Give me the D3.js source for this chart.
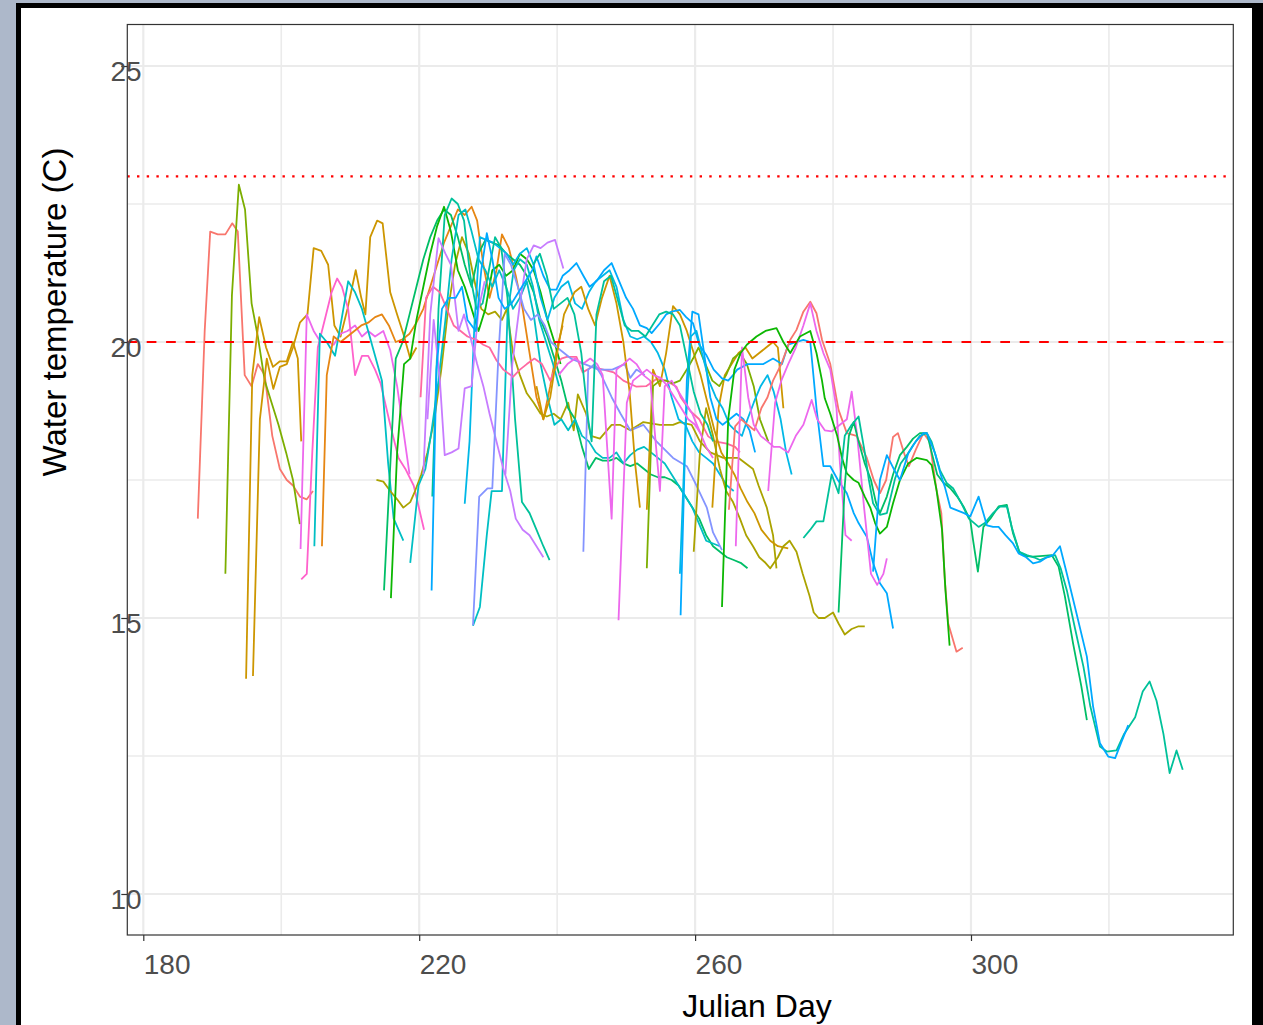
<!DOCTYPE html>
<html>
<head>
<meta charset="utf-8">
<script src="https://cdn.jsdelivr.net/npm/d3@7"></script>
<style>
  html, body { margin: 0; padding: 0; background: #adb8ca; }
  svg { display: block; }
  text { font-family: "Liberation Sans", Arial, Helvetica, sans-serif; }
</style>
</head>
<body>
<svg id="chart" width="1263" height="1025"></svg>
<script>
// ---- data: logger deployments, [julian day, water temperature C] ----
const siteNames = ["S01","S02","S03","S04","S05","S06","S07","S08",
                   "S09","S10","S11","S12","S13","S14","S15","S16"];

const s01a = [[187.9,16.8],[188.9,20.2],[189.7,22.0],[190.8,21.95],[191.9,21.95],[192.9,22.15],[193.7,22.0],[194.7,19.4],[195.7,19.2],[196.6,19.6],[197.6,19.4],[198.7,18.3],[199.8,17.7],[200.8,17.5],[201.7,17.4],[202.7,17.2],[203.7,17.15],[204.6,17.3]];
const s05a = [[191.9,15.8],[192.85,20.85],[193.85,22.85],[194.75,22.4],[195.7,20.7],[196.6,20.1],[197.6,19.3],[198.6,18.9],[199.6,18.5],[200.7,18.0],[201.7,17.5],[202.7,16.7]];
const s03a = [[194.9,13.9],[195.8,19.4],[196.8,20.45],[197.8,19.9],[198.8,19.55],[199.8,19.65],[200.8,19.65],[201.7,20.0],[202.4,19.7],[202.9,18.2]];
const s03b = [[195.9,13.95],[196.9,18.6],[197.9,19.7],[198.85,19.15],[199.8,19.55],[200.8,19.6],[201.7,19.9],[202.7,20.35],[203.8,20.5],[204.7,21.7],[205.8,21.65],[206.8,21.4],[207.7,20.3],[208.6,20.1],[209.6,20.6],[210.8,21.3],[211.6,20.8],[212.2,20.5],[212.9,21.9],[213.9,22.2],[214.7,22.15],[215.8,20.9],[216.8,20.5],[217.7,20.15],[218.7,19.7],[219.6,19.9]];
const s14a = [[202.8,16.25],[203.7,20.5],[204.7,20.2],[205.7,20.0],[206.7,20.0],[207.6,19.95],[208.6,20.15],[209.6,20.2],[210.7,20.3],[211.7,20.1],[212.6,20.2],[213.6,20.1],[214.8,20.2],[215.8,19.85],[216.8,19.2],[217.7,18.4],[218.6,17.6]];
const s15a = [[202.9,15.7],[203.7,15.8],[204.5,18.0],[205.3,19.9],[206.3,20.4],[207.3,20.9],[208.1,21.15],[208.8,21.0],[209.7,20.6],[210.7,19.4],[211.7,19.75],[212.6,19.75],[213.6,19.5],[214.4,19.25],[215.8,18.5],[217.0,17.9],[218.0,17.7],[219.2,17.4],[220.7,16.6]];
const s09a = [[204.8,16.3],[205.6,20.15],[206.6,20.0],[207.8,19.75],[208.8,20.45],[209.7,21.1],[210.7,20.9],[211.7,20.6],[212.6,20.2],[213.6,19.75],[214.6,19.3],[215.5,17.8],[216.3,16.8],[217.7,16.4]];
const s02a = [[205.9,16.3],[206.6,19.4],[207.6,20.1],[208.6,20.0],[209.6,20.1],[210.6,20.2],[211.6,20.3],[212.6,20.35],[213.6,20.45],[214.6,20.5],[215.6,20.3],[216.6,20.0],[217.6,20.05],[218.6,20.15],[219.6,20.35],[220.6,20.6],[221.6,21.0],[222.6,21.4],[223.6,21.8],[224.6,22.1],[225.6,22.4],[226.6,22.3],[227.6,22.45],[228.4,22.2],[229.3,21.4],[230.2,20.8],[231.2,21.3],[232.0,21.95],[233.0,21.7],[234.0,21.2],[235.0,20.6],[236.0,19.8],[237.0,19.0],[238.0,18.6],[239.0,19.2],[240.0,19.9],[240.8,20.3]];
const s04a = [[213.8,17.5],[214.8,17.47],[215.8,17.3],[216.8,17.15],[217.7,17.0],[218.7,17.1],[219.4,17.3],[220.3,17.6],[221.2,18.0],[222.2,18.6],[223.2,19.5],[224.2,20.6],[225.2,21.4],[226.2,21.9],[227.2,21.6],[228.2,21.0],[229.0,20.6],[230.0,20.5],[231.0,20.55],[232.0,20.4],[232.7,20.6],[233.6,19.8],[234.6,19.4],[235.6,19.07],[236.6,18.9],[237.6,18.7],[238.5,18.65],[239.5,18.7],[240.5,18.6],[241.6,18.9],[242.4,18.4],[243.0,19.05],[244.2,18.7],[244.9,18.3],[246.2,18.25],[247.9,18.5],[249.1,18.5],[250.6,18.4],[252.5,18.55],[254.9,18.5],[256.8,18.5],[257.8,18.55],[259.5,18.5],[260.7,18.2],[262.2,18.0],[264.1,17.9],[266.3,17.9],[268.4,17.7],[269.2,17.4],[270.4,17.0],[271.3,16.5],[271.8,15.9]];
const s07a = [[214.9,15.5],[215.7,17.5],[216.6,19.7],[217.6,20.0],[218.6,20.5],[219.6,21.0],[220.6,21.5],[221.6,21.9],[222.6,22.2],[223.6,22.4],[224.6,22.3],[225.6,21.9],[226.6,21.4],[227.6,21.0],[228.6,21.6],[229.6,21.85],[230.6,21.8],[231.6,21.75],[232.6,21.6],[233.6,21.5],[234.6,21.4],[235.6,21.2],[236.6,20.9],[237.6,20.4],[238.6,20.1],[239.6,19.7],[240.6,19.3],[241.6,18.8],[242.6,18.6],[243.6,18.1],[244.6,17.7],[245.6,17.9],[246.6,17.85],[247.6,17.85],[248.6,17.9],[249.6,17.8],[250.6,17.75],[251.6,17.8],[252.6,17.7],[253.6,17.6],[254.6,17.55],[255.6,17.55],[256.6,17.5],[257.6,17.4],[258.6,17.2],[259.6,17.0],[260.6,16.8],[261.6,16.5],[262.6,16.3],[263.6,16.2],[264.6,16.1],[265.6,16.05],[266.6,16.0],[267.6,15.9]];
const s06a = [[215.9,15.36],[216.8,18.0],[217.8,19.6],[218.7,19.7],[219.6,20.4],[220.6,21.0],[221.6,21.6],[222.6,22.1],[223.6,22.45],[224.6,22.0],[225.6,21.3],[226.6,21.0],[227.6,20.6],[228.6,20.2],[229.6,20.6],[230.6,21.3],[231.6,21.4],[232.6,21.2],[233.6,21.3],[234.6,21.6],[235.6,21.5],[236.6,21.3],[237.6,20.9],[238.6,20.4],[239.6,20.0],[240.5,19.6]];
const s09b = [[218.7,16.0],[219.9,17.4],[220.9,17.7],[221.8,18.4],[222.8,19.3],[223.8,20.4],[224.7,21.5],[225.7,22.3],[226.7,22.4],[227.6,22.0],[228.6,21.5],[229.6,21.3],[230.6,21.0],[231.6,21.3],[232.6,21.0],[233.6,20.6],[234.6,20.8],[235.6,21.1],[236.6,20.5],[237.6,19.6],[238.6,19.0],[239.6,18.5],[240.6,18.6],[241.6,18.4],[242.6,18.6],[243.6,18.3],[244.6,18.2],[245.6,18.0],[246.6,17.9],[247.6,17.9],[248.6,18.0],[249.6,17.8],[250.6,17.95],[251.6,18.05],[252.6,18.1],[253.6,18.0],[254.6,17.9],[255.6,17.8],[256.6,17.6],[257.6,17.4],[258.6,17.2],[259.6,17.0],[260.6,16.7],[261.6,16.4],[262.6,16.35],[263.6,16.3]];
const s10a = [[226.6,17.07],[227.3,18.2],[228.0,20.3],[228.8,21.9],[229.7,21.85],[230.7,21.8],[231.7,21.7],[232.7,21.6],[233.6,21.4],[234.6,21.6],[235.6,21.7],[236.6,21.4],[237.6,20.8],[238.6,20.4],[239.6,20.8],[240.6,21.0],[241.6,21.1],[242.6,20.7],[243.6,20.6],[244.6,20.9],[245.6,21.1],[246.6,21.2],[247.6,21.3],[248.6,21.0],[249.6,20.4],[250.6,20.1],[251.6,20.05],[252.6,20.1],[253.6,20.0],[254.6,19.8],[255.6,19.5],[256.6,19.0],[257.6,18.6],[258.6,18.5],[259.6,18.2],[260.6,18.0],[261.6,17.9],[262.6,17.8],[263.6,17.6],[264.6,17.4],[265.6,17.3]];
const s09c = [[227.8,14.86],[228.8,15.2],[229.8,16.5],[230.5,17.3],[232.0,17.3],[232.8,20.5],[233.7,21.3],[234.6,21.5],[235.6,21.4],[236.5,21.0],[237.4,20.4],[238.4,20.0],[239.4,19.6],[240.3,19.2]];
const s08a = [[221.9,17.2],[222.8,20.6],[223.7,22.3],[224.7,22.6],[225.6,22.5],[226.5,22.2],[227.4,21.2],[228.3,20.6],[229.2,20.7],[230.1,21.3],[231.0,21.9],[231.9,21.7],[232.8,20.8],[233.9,18.6],[234.9,17.1],[236.0,16.9],[237.0,16.6],[238.0,16.3],[238.9,16.05]];
const s16a = [[220.2,19.0],[221.0,20.8],[222.0,21.0],[223.0,20.9],[224.0,20.6],[225.0,20.3],[226.0,20.2],[227.0,20.1],[228.3,20.04],[229.3,19.95],[230.2,19.9],[231.2,19.67],[232.2,19.5],[233.6,19.37],[234.6,19.5],[235.6,19.6],[236.7,19.7],[237.8,19.6],[239.0,19.3],[239.8,19.55],[240.6,19.7],[241.4,19.73],[242.8,19.73],[243.7,19.45],[245.1,19.55],[246.7,19.5],[248.2,19.45],[249.6,19.3],[251.5,19.19],[252.9,19.2],[254.4,19.33],[255.8,19.3],[257.3,19.19],[257.9,19.0],[259.3,18.75],[260.6,18.6],[261.9,18.29],[262.9,18.2],[264.6,18.16],[265.8,18.1],[266.5,18.0]];
const s13a = [[220.6,17.6],[221.6,20.5],[222.8,21.88],[223.8,21.6],[224.6,21.4],[225.7,20.2],[226.5,20.5],[227.4,20.1],[228.4,19.6],[229.3,19.2],[230.2,18.7],[231.2,18.2],[232.2,17.7],[233.2,17.3],[234.0,16.8],[235.0,16.6],[236.0,16.5],[237.0,16.3],[238.0,16.1]];
const s13b = [[232.5,17.6],[233.5,19.6],[234.6,20.7],[235.6,21.5],[236.6,21.75],[237.6,21.7],[238.6,21.8],[239.7,21.85],[240.9,21.33]];
const s13c = [[221.2,18.6],[222.1,20.4],[223.0,19.3],[223.7,17.95],[224.7,18.0],[225.7,18.07],[226.6,19.16],[227.6,19.2],[228.6,20.6],[229.5,21.1]];
const s12a = [[227.8,14.87],[228.7,17.2],[229.9,17.35],[230.6,17.35],[231.5,19.8],[232.4,21.6],[233.3,21.4],[234.3,21.0],[235.2,20.6],[236.2,20.4],[237.2,20.5],[238.2,20.3],[239.1,20.0],[240.0,19.9],[242.0,19.7],[244.0,19.6],[246.0,19.5],[248.0,19.5],[249.8,19.6],[250.6,19.35],[251.5,19.5],[252.7,19.4]];
const s12b = [[243.8,16.2],[244.5,19.5],[245.4,19.6],[246.4,19.4],[247.9,19.0],[249.2,18.7],[250.6,18.4],[252.5,18.5],[254.4,18.2],[256.8,17.9],[258.8,17.75],[260.2,17.4],[261.7,17.0],[262.6,16.55],[263.9,16.23]];
const s03c = [[237.0,19.2],[238.0,18.6],[239.0,19.0],[240.0,19.8],[241.0,20.5],[242.5,20.9],[243.5,21.0],[244.5,20.6],[245.5,20.3],[246.5,20.8],[247.6,21.2],[248.6,20.7],[249.6,20.0],[250.5,19.1],[251.3,17.8],[252.0,17.0]];
const s03d = [[253.0,16.96],[253.9,19.5],[254.9,19.2],[255.8,19.8],[256.8,20.65],[257.8,20.5],[258.8,20.2],[259.8,19.8],[260.8,19.4],[261.8,18.9],[262.8,18.4],[263.8,18.0],[264.8,17.8],[265.7,17.6],[266.6,17.35],[267.6,17.1],[268.6,16.9],[269.6,16.6],[270.9,16.4],[272.0,16.3],[273.5,16.26]];
const s03e = [[262.5,17.0],[263.4,18.8],[264.3,19.4],[265.3,19.6],[266.3,19.8],[267.3,19.9],[268.3,19.7],[269.3,19.8],[270.3,19.9],[271.3,20.0],[272.0,19.9],[272.8,18.8]];
const s05b = [[253.0,15.9],[253.9,19.2],[254.9,19.3],[255.8,19.3],[256.8,19.25],[257.8,19.3],[258.8,19.5],[259.7,19.7],[260.5,19.9],[261.5,19.6],[262.5,19.3],[263.5,19.2],[264.5,19.4],[265.5,19.7],[266.5,19.8],[267.5,19.6],[268.5,19.2],[269.4,18.6],[270.6,18.2]];
const s04b = [[259.8,16.2],[260.7,18.0],[261.6,18.8],[262.6,18.3],[263.6,17.7],[264.5,17.3],[265.5,17.1],[266.5,16.8],[267.4,16.5],[268.4,16.3],[269.3,16.1],[270.2,16.0],[270.9,15.9],[272.0,16.1],[272.8,16.3],[273.7,16.4],[274.7,16.2],[275.6,15.8],[276.6,15.4],[277.2,15.1],[277.9,15.0],[278.8,15.0],[280.0,15.1],[280.8,14.9],[281.7,14.7],[282.7,14.8],[283.7,14.85],[284.6,14.85]];
const s11a = [[221.8,15.5],[222.5,19.5],[223.3,20.6],[224.3,20.8],[225.3,20.8],[226.2,21.0],[227.0,20.4],[228.2,20.2],[229.0,21.3],[229.8,21.97],[230.6,21.5],[231.5,20.8],[232.4,20.6],[233.4,20.7],[234.4,20.9],[235.4,21.1],[236.4,21.3],[237.0,21.55],[238.0,21.2],[239.0,20.95],[239.9,20.95],[240.8,21.2],[241.8,21.3],[242.8,21.43],[243.8,21.2],[244.7,21.0],[245.7,21.1],[246.8,21.3],[247.9,21.43],[249.0,21.1],[250.0,20.8],[251.0,20.6],[252.0,20.3],[253.0,20.25],[253.7,20.16],[254.9,20.34],[255.8,20.5],[256.6,20.55],[257.8,20.58],[258.7,20.45],[259.7,20.34],[260.6,19.95],[261.6,19.77],[262.7,19.5],[263.9,19.34],[264.8,19.3],[265.5,19.4],[266.1,19.5],[267.6,19.6],[269.0,19.6],[269.9,19.6],[271.3,19.7],[272.6,19.6],[273.5,19.95],[274.7,20.0],[275.7,20.04],[276.7,20.0],[277.6,18.8],[278.6,17.75],[279.6,17.75],[280.7,17.5],[282.0,17.26],[283.0,16.9],[283.7,16.72],[284.9,16.47],[285.8,16.0],[286.8,15.63],[287.8,15.45],[288.7,14.81]];
const s11b = [[257.9,15.05],[258.8,19.3],[259.6,20.55],[260.5,20.5],[261.3,19.8],[262.2,19.0],[263.1,18.6],[264.0,18.5],[265.0,18.6],[266.0,18.7],[267.0,18.6],[267.9,18.4],[268.7,18.0]];
const s10b = [[257.8,15.8],[258.6,18.4],[259.4,20.1],[260.2,20.2],[261.0,19.8],[262.0,19.3],[263.0,19.0],[264.0,18.8],[265.0,18.5],[265.8,18.4],[266.8,18.3],[267.6,18.6],[268.5,18.9],[269.5,19.2],[270.5,19.4],[271.4,19.1],[272.4,18.6],[273.2,18.0],[274.0,17.6]];
const s14b = [[240.2,19.4],[241.5,19.6],[242.6,19.7],[243.7,19.6],[244.8,19.7],[245.8,19.6],[246.6,19.4],[247.9,16.8],[248.6,19.5],[249.6,19.6],[250.5,19.7],[251.5,19.6],[252.5,19.4],[253.5,19.3],[254.9,17.3],[255.6,19.2],[256.6,19.3],[257.6,19.1],[258.6,18.9],[259.6,18.7],[260.6,18.4],[261.6,18.1],[262.6,17.9]];
const s14c = [[248.9,14.96],[250.1,18.9],[251.0,19.3],[252.0,19.4],[253.0,19.5],[254.0,19.4],[255.0,19.35],[256.0,19.2],[257.0,19.0],[258.0,18.8],[259.0,18.6],[260.0,18.5],[261.0,18.3]];
const s08b = [[236.5,21.4],[237.5,21.6],[238.5,21.2],[239.5,20.6],[240.5,20.7],[241.5,20.8],[242.5,20.5],[243.5,19.8],[244.5,18.6],[245.0,18.2],[245.7,20.5],[246.8,21.1],[247.8,21.2],[248.7,20.8],[249.8,20.3],[250.8,20.2],[251.8,20.2],[252.8,20.1],[253.8,20.3],[254.8,20.5],[255.8,20.55],[256.8,20.5],[257.8,20.3],[258.8,19.7],[259.8,19.1],[260.8,18.7],[261.8,18.5],[262.6,18.2]];
const s01b = [[264.9,16.96],[265.8,18.47],[266.7,18.6],[267.6,18.5],[268.6,18.4],[269.6,18.8],[270.5,19.0],[271.3,19.3],[272.5,19.6],[273.8,20.04],[274.7,20.22],[275.7,20.55],[276.7,20.73],[277.6,20.52],[278.4,20.04],[279.6,19.6],[280.8,18.77],[282.0,18.35],[283.4,18.3],[284.9,17.9],[285.9,17.5],[286.8,17.26],[287.7,17.5],[288.7,18.28],[289.4,18.35],[290.4,17.95],[291.0,17.75],[292.0,18.05],[293.1,18.35],[294.0,18.2],[295.0,17.32],[295.7,16.9],[296.2,15.7],[296.7,14.9],[297.9,14.39],[298.8,14.46]];
const s14d = [[270.6,17.3],[271.6,18.9],[272.5,19.3],[273.5,19.6],[274.6,19.9],[275.7,20.3],[276.7,20.7],[277.6,20.2],[278.6,19.8],[279.6,19.5],[280.5,18.8],[281.0,17.8],[281.8,16.5],[282.7,16.4]];
const s14e = [[265.9,16.3],[266.8,19.9],[267.7,19.0],[268.5,18.5],[269.5,18.3],[270.5,18.2],[271.4,18.1],[272.3,18.1],[273.5,18.0],[274.6,18.3],[275.7,18.5],[276.9,18.95],[277.7,18.6],[278.8,18.4],[279.8,18.38],[281.0,18.5],[282.0,18.6],[282.7,19.1],[283.5,18.3],[284.5,17.0],[285.5,15.8],[286.4,15.6],[287.3,15.8],[287.8,16.08]];
const s06b = [[263.9,15.2],[264.8,18.6],[265.7,19.5],[266.6,19.8],[267.5,19.95],[268.9,20.1],[270.2,20.2],[271.8,20.25],[272.8,20.0],[273.8,19.8],[275.2,20.1],[276.7,20.2],[277.6,19.8],[278.4,19.3],[278.8,18.98],[279.6,18.7],[280.6,18.3],[281.3,17.9],[282.0,17.62],[283.0,17.5],[283.7,17.45],[284.6,17.2],[285.4,17.0],[286.1,16.72],[286.8,16.53],[287.8,16.65],[288.7,17.08],[289.7,17.5],[290.9,17.8],[292.1,17.9],[293.6,17.86],[294.3,17.77],[295.0,17.32],[295.8,16.6],[296.3,15.5],[296.9,14.5]];
const s07b = [[280.8,15.1],[281.7,17.4],[282.3,18.3],[283.0,18.55],[283.7,18.2],[284.6,17.8],[285.5,17.5],[286.2,17.1],[286.8,16.9],[287.8,17.2],[288.7,17.6],[289.7,17.95],[290.7,18.1],[291.6,18.25],[292.6,18.35],[293.6,18.35],[294.3,18.0],[295.1,17.6],[296.0,17.45],[297.0,17.35],[298.0,17.2],[299.0,17.0],[299.9,16.77],[300.3,16.41],[301.0,15.84],[301.8,16.65],[302.8,16.8],[304.0,17.02],[305.2,17.05],[306.1,16.53],[307.0,16.2],[308.0,16.12],[309.0,16.11],[310.0,16.12],[310.9,16.13],[311.7,16.14],[312.7,15.93],[313.6,15.4],[314.8,14.54],[316.0,13.76],[316.8,13.15]];
const s08c = [[275.7,16.45],[276.7,16.6],[277.6,16.75],[278.6,16.75],[279.8,17.6],[280.8,17.26],[281.7,18.3],[282.7,18.5],[283.7,18.65],[284.6,18.0],[285.2,17.5],[285.8,17.08],[286.8,16.87],[287.8,16.9],[289.0,17.53],[289.8,17.8],[290.7,17.95],[291.6,18.13],[292.6,18.3],[293.6,18.35],[294.3,18.19],[295.5,17.68],[296.5,17.44],[297.4,17.35],[298.6,17.08],[299.7,16.8],[301.1,16.65],[302.0,16.72],[303.2,16.9],[304.2,17.02],[305.2,17.02],[305.9,16.65],[307.0,16.2],[308.1,16.14],[309.1,16.1],[310.0,16.05],[311.0,16.1],[312.2,16.14],[313.0,15.9],[313.9,15.5],[315.1,14.8],[316.3,14.12],[317.3,13.4],[318.7,12.67],[319.7,12.58],[321.1,12.6],[322.2,12.9],[323.8,13.2],[324.9,13.67],[325.9,13.85],[326.9,13.5],[327.9,12.9],[328.8,12.19],[329.8,12.6],[330.7,12.25]];
const s11c = [[285.8,15.84],[286.8,17.5],[287.8,17.95],[288.8,17.7],[289.7,17.5],[290.9,17.98],[292.0,18.2],[293.1,18.35],[293.6,18.35],[294.8,17.98],[295.6,17.6],[296.2,17.38],[297.0,17.0],[298.0,16.95],[299.0,16.9],[299.9,16.84],[301.1,17.2],[302.3,16.68],[303.2,16.65],[304.0,16.65],[305.0,16.5],[306.1,16.35],[306.9,16.17],[308.0,16.1],[309.0,15.99],[310.0,16.02],[311.0,16.1],[311.9,16.14],[312.9,16.3],[313.9,15.8],[315.3,15.08],[316.8,14.3],[317.7,13.4],[318.7,12.73],[319.9,12.49],[320.9,12.46],[321.8,12.75],[322.8,13.06]];

// each deployment: which site logged it, and its readings
const deployments = [
  {site:"S01", values:s01a}, {site:"S05", values:s05a}, {site:"S03", values:s03a},
  {site:"S03", values:s03b}, {site:"S14", values:s14a}, {site:"S15", values:s15a},
  {site:"S09", values:s09a}, {site:"S02", values:s02a}, {site:"S04", values:s04a},
  {site:"S07", values:s07a}, {site:"S06", values:s06a}, {site:"S09", values:s09b},
  {site:"S10", values:s10a}, {site:"S09", values:s09c}, {site:"S08", values:s08a},
  {site:"S16", values:s16a}, {site:"S13", values:s13a}, {site:"S13", values:s13b},
  {site:"S13", values:s13c},
  {site:"S12", values:s12a}, {site:"S12", values:s12b}, {site:"S03", values:s03c},
  {site:"S03", values:s03d}, {site:"S03", values:s03e}, {site:"S05", values:s05b},
  {site:"S04", values:s04b}, {site:"S11", values:s11a}, {site:"S11", values:s11b},
  {site:"S10", values:s10b}, {site:"S14", values:s14b}, {site:"S14", values:s14c},
  {site:"S08", values:s08b}, {site:"S01", values:s01b}, {site:"S14", values:s14d},
  {site:"S14", values:s14e}, {site:"S06", values:s06b}, {site:"S07", values:s07b},
  {site:"S08", values:s08c}, {site:"S11", values:s11c}
];

const xTicks = [180, 220, 260, 300];
const xMinor = [200, 240, 280, 320];
const yTicks = [10, 15, 20, 25];
const yMinor = [12.5, 17.5, 22.5];
const thresholds = [{value:20, style:"dashed"}, {value:23, style:"dotted"}];

// ---- layout ----
const svg = d3.select("#chart");
const W = 1263, H = 1025;
const panel = {left:127.3, right:1233.3, top:24.5, bottom:935};

svg.append("rect").attr("width", W).attr("height", H).attr("fill", "#adb8ca");
svg.append("rect").attr("x", 16).attr("y", 3).attr("width", W - 16).attr("height", H - 3).attr("fill", "#000");
svg.append("rect").attr("x", 21).attr("y", 8).attr("width", 1231).attr("height", H - 8).attr("fill", "#fff");

const x = d3.scaleLinear().domain([177.68, 338.03]).range([panel.left, panel.right]);
const y = d3.scaleLinear().domain([9.257, 25.752]).range([panel.bottom, panel.top]);

// default discrete hue palette, 16 levels
const color = d3.scaleOrdinal()
  .domain(siteNames)
  .range(["#F8766D","#E68613","#CD9600","#ABA300","#7CAE00","#0CB702","#00BE67","#00C19A",
          "#00BFC4","#00B8E7","#00A9FF","#8494FF","#C77CFF","#ED68ED","#FF61CC","#FF68A1"]);

svg.append("defs").append("clipPath").attr("id", "clip")
  .append("rect").attr("x", panel.left).attr("y", panel.top)
  .attr("width", panel.right - panel.left).attr("height", panel.bottom - panel.top);

const grid = svg.append("g");
grid.selectAll(".gxm").data(xMinor).join("line")
  .attr("x1", d => x(d)).attr("x2", d => x(d)).attr("y1", panel.top).attr("y2", panel.bottom)
  .attr("stroke", "#ebebeb").attr("stroke-width", 1.6);
grid.selectAll(".gym").data(yMinor).join("line")
  .attr("y1", d => y(d)).attr("y2", d => y(d)).attr("x1", panel.left).attr("x2", panel.right)
  .attr("stroke", "#ebebeb").attr("stroke-width", 1.6);
grid.selectAll(".gx").data(xTicks).join("line")
  .attr("x1", d => x(d)).attr("x2", d => x(d)).attr("y1", panel.top).attr("y2", panel.bottom)
  .attr("stroke", "#ebebeb").attr("stroke-width", 2.2);
grid.selectAll(".gy").data(yTicks).join("line")
  .attr("y1", d => y(d)).attr("y2", d => y(d)).attr("x1", panel.left).attr("x2", panel.right)
  .attr("stroke", "#ebebeb").attr("stroke-width", 2.2);

// temperature series
const line = d3.line().x(d => x(d[0])).y(d => y(d[1]));
svg.append("g").attr("clip-path", "url(#clip)")
  .selectAll("path").data(deployments).join("path")
  .attr("d", d => line(d.values))
  .attr("fill", "none")
  .attr("stroke", d => color(d.site))
  .attr("stroke-width", 1.8)
  .attr("stroke-linejoin", "round");

// reference thresholds
svg.append("g").selectAll("line").data(thresholds).join("line")
  .attr("x1", panel.left).attr("x2", panel.right)
  .attr("y1", d => y(d.value)).attr("y2", d => y(d.value))
  .attr("stroke", "#ff0000").attr("stroke-width", 2.2)
  .attr("stroke-dasharray", d => d.style === "dashed" ? "9.7,9.7" : "2.4,7.3");

// panel border
svg.append("rect").attr("x", panel.left).attr("y", panel.top)
  .attr("width", panel.right - panel.left).attr("height", panel.bottom - panel.top)
  .attr("fill", "none").attr("stroke", "#333333").attr("stroke-width", 1.2);

// axes
const xAxis = svg.append("g").attr("transform", `translate(0,${panel.bottom})`)
  .call(d3.axisBottom(x).tickValues(xTicks).tickSize(6).tickPadding(0));
xAxis.select(".domain").remove();
xAxis.selectAll(".tick line").attr("stroke", "#333333").attr("stroke-width", 1.2);
xAxis.selectAll(".tick text").attr("fill", "#4d4d4d").attr("font-size", 28)
  .attr("text-anchor", "start").attr("dy", null).attr("y", 39)
  .style("font-family", "'Liberation Sans', Arial, sans-serif");

const yAxis = svg.append("g").attr("transform", `translate(${panel.left},0)`)
  .call(d3.axisLeft(y).tickValues(yTicks).tickSize(6).tickPadding(0));
yAxis.select(".domain").remove();
yAxis.selectAll(".tick line").attr("stroke", "#333333").attr("stroke-width", 1.2);
yAxis.selectAll(".tick text").attr("fill", "#4d4d4d").attr("font-size", 28)
  .attr("text-anchor", "end").attr("x", 14.3).attr("dy", null).attr("y", 14.5)
  .style("font-family", "'Liberation Sans', Arial, sans-serif");

// titles
svg.append("text").attr("x", 757).attr("y", 1017).attr("text-anchor", "middle")
  .attr("font-size", 32).attr("fill", "#000").text("Julian Day");
svg.append("text").attr("transform", "translate(66,312) rotate(-90)")
  .attr("text-anchor", "middle").attr("font-size", 33).attr("fill", "#000")
  .text("Water temperature (C)");
</script>
</body>
</html>
